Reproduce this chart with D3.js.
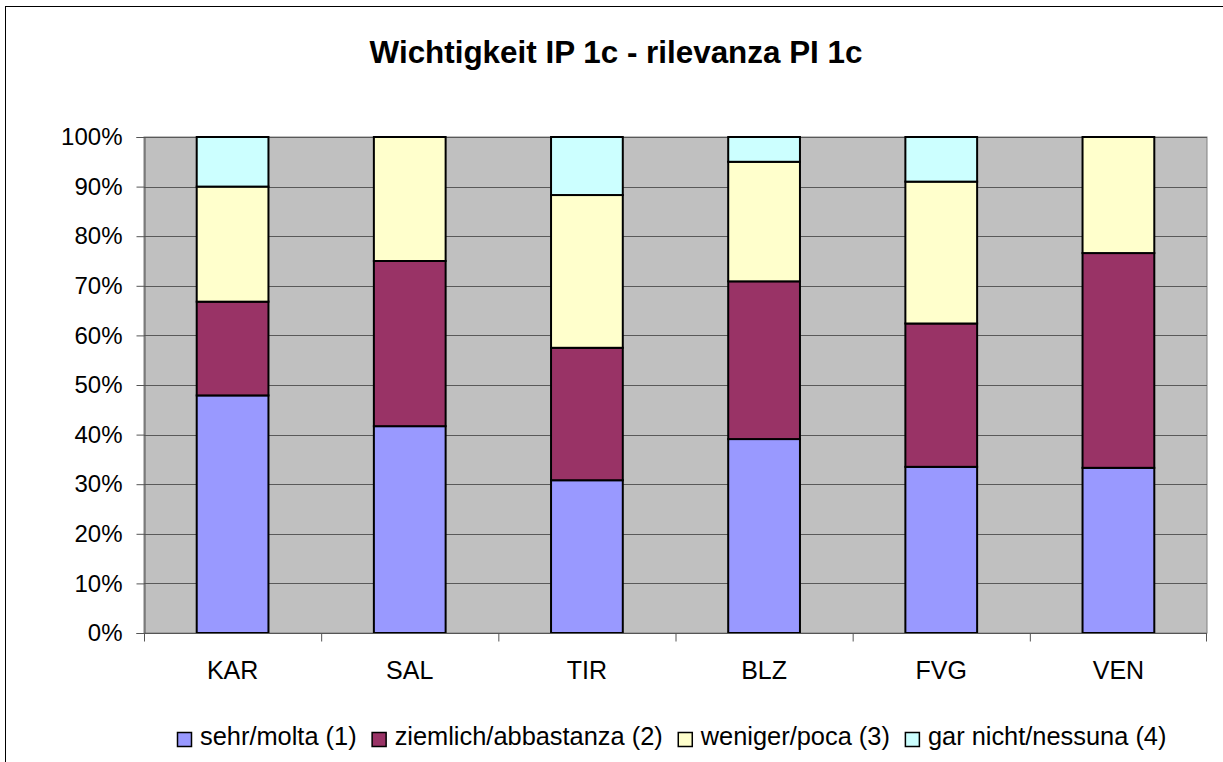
<!DOCTYPE html>
<html>
<head>
<meta charset="utf-8">
<script src="https://cdn.jsdelivr.net/npm/d3@7"></script>
<style>
  body { margin: 0; background: #fff; }
  svg { display: block; font-family: "Liberation Sans", Arial, sans-serif; }
</style>
</head>
<body>
<svg id="chart" width="1223" height="762"></svg>
<script>
// Daten
var regions = ["KAR", "SAL", "TIR", "BLZ", "FVG", "VEN"];
var seriesNames = ["sehr/molta (1)", "ziemlich/abbastanza (2)", "weniger/poca (3)", "gar nicht/nessuna (4)"];
var seriesColors = ["#9999FF", "#993366", "#FFFFCC", "#CCFFFF"];
var sehr     = [47.9, 41.7, 30.8, 39.1, 33.5, 33.3];
var ziemlich = [18.9, 33.3, 26.7, 31.8, 28.9, 43.3];
var weniger  = [23.2, 25.0, 30.8, 24.1, 28.6, 23.4];
var garNicht = [10.0,  0.0, 11.7,  5.0,  9.0,  0.0];
var yTicks = [0, 0.1, 0.2, 0.3, 0.4, 0.5, 0.6, 0.7, 0.8, 0.9, 1];

var svg = d3.select("#chart");
var plot = { left: 144, right: 1207, top: 137, bottom: 633 };

// Rahmen
svg.append("rect").attr("x", 5.5).attr("y", 6.5).attr("width", 1240).attr("height", 780)
	.attr("fill", "#fff").attr("stroke", "#000").attr("stroke-width", 1);

// Titel
svg.append("text").attr("x", 616).attr("y", 63).attr("text-anchor", "middle")
	.attr("font-size", 31.4).attr("font-weight", "bold").text("Wichtigkeit IP 1c - rilevanza PI 1c");

var rows = regions.map(function(r, i){
	return { region: r, s0: sehr[i], s1: ziemlich[i], s2: weniger[i], s3: garNicht[i] };
});
var stack = d3.stack().keys(["s0", "s1", "s2", "s3"]).offset(d3.stackOffsetExpand);
var layers = stack(rows);

var x = d3.scaleBand().domain(regions).range([plot.left, plot.right]).paddingInner(0.595).paddingOuter(0.2975);
var xTicks = d3.scaleBand().domain(regions).range([plot.left, plot.right]);
var y = d3.scaleLinear().domain([0, 1]).range([plot.bottom, plot.top]);

// Hintergrund
svg.append("rect").attr("x", plot.left).attr("y", plot.top)
	.attr("width", plot.right - plot.left).attr("height", plot.bottom - plot.top)
	.attr("fill", "#C0C0C0").attr("stroke", "#808080").attr("stroke-width", 1);

// Gitterlinien
svg.append("g").selectAll("line").data(yTicks).join("line")
	.attr("x1", plot.left).attr("x2", plot.right)
	.attr("y1", function(d){ return Math.round(y(d)) + 0.5; })
	.attr("y2", function(d){ return Math.round(y(d)) + 0.5; })
	.attr("stroke", "#595959").attr("stroke-width", 1);

// Balken
svg.append("g").selectAll("g").data(layers).join("g")
	.attr("fill", function(d, i){ return seriesColors[i]; })
	.selectAll("rect").data(function(d){ return d.filter(function(p){ return p[1] - p[0] > 0; }); }).join("rect")
	.attr("x", function(d){ return x(d.data.region); })
	.attr("width", x.bandwidth())
	.attr("y", function(d){ return y(d[1]); })
	.attr("height", function(d){ return y(d[0]) - y(d[1]); })
	.attr("stroke", "#000").attr("stroke-width", 2);

// Y-Achse
var yAxis = svg.append("g").attr("transform", "translate(" + (plot.left + 0.5) + ",0)")
	.call(d3.axisLeft(y).tickValues(yTicks).tickSize(8).tickPadding(14).tickFormat(d3.format(".0%")));
yAxis.selectAll("text").attr("font-size", 24).attr("fill", "#000").attr("font-family", "Liberation Sans, Arial, sans-serif");
yAxis.selectAll("line, path").attr("stroke", "#555");

// X-Achse
var xAxis = svg.append("g").attr("transform", "translate(0," + (plot.bottom + 0.5) + ")");
xAxis.append("line").attr("x1", plot.left).attr("x2", plot.right).attr("stroke", "#555");
xAxis.selectAll("line.tick").data(regions.concat(["end"])).join("line").attr("class", "tick")
	.attr("x1", function(d){ return d === "end" ? plot.right - 0.5 : xTicks(d) + 0.5; })
	.attr("x2", function(d){ return d === "end" ? plot.right - 0.5 : xTicks(d) + 0.5; })
	.attr("y1", 0).attr("y2", 8).attr("stroke", "#555");
xAxis.selectAll("text").data(regions).join("text")
	.attr("x", function(d){ return xTicks(d) + xTicks.bandwidth() / 2; })
	.attr("y", 45).attr("text-anchor", "middle").attr("font-size", 25).text(function(d){ return d; });

// Legende
var legend = svg.append("g").attr("transform", "translate(177,745)");
var offset = 0;
seriesNames.forEach(function(name, i){
	var g = legend.append("g").attr("transform", "translate(" + offset + ",0)");
	g.append("rect").attr("x", 0.5).attr("y", -12.5).attr("width", 14).attr("height", 14)
		.attr("fill", seriesColors[i]).attr("stroke", "#000").attr("stroke-width", 1.5);
	var t = g.append("text").attr("x", 23).attr("y", 0).attr("font-size", 25.4).text(name);
	offset += 23 + t.node().getComputedTextLength() + 15;
});
</script>
</body>
</html>
